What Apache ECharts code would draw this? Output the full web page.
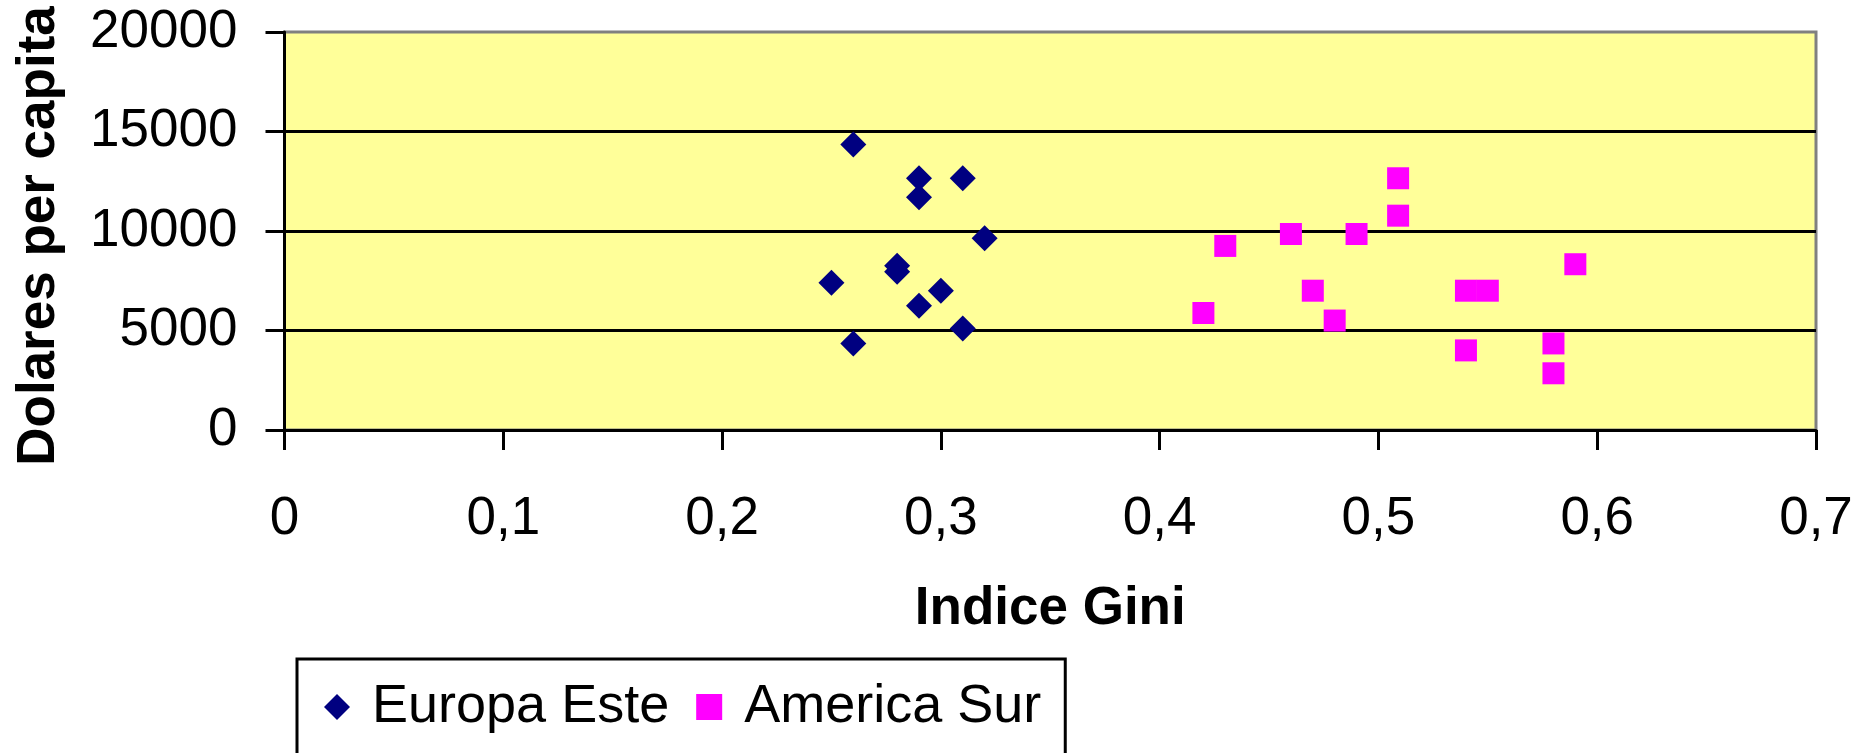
<!DOCTYPE html>
<html>
<head>
<meta charset="utf-8">
<title>Indice Gini</title>
<script src="https://cdn.jsdelivr.net/npm/echarts@6/dist/echarts.min.js"></script>
<style>
	html, body { margin: 0; padding: 0; background: #fff; }
	#chart { width: 1875px; height: 753px; }
</style>
</head>
<body>
<div id="chart"></div>
<script>
	// datos
	const seriesNames = ['Europa Este', 'America Sur'];

	const europaGini = [0.26, 0.29, 0.31, 0.29, 0.32, 0.28, 0.28, 0.25, 0.30, 0.29, 0.31, 0.26];
	const europaDolares = [14350, 12650, 12650, 11700, 9630, 8250, 7950, 7400, 7000, 6250, 5100, 4350];

	const americaGini = [0.509, 0.509, 0.46, 0.49, 0.43, 0.59, 0.47, 0.54, 0.55, 0.42, 0.48, 0.54, 0.58, 0.58];
	const americaDolares = [12650, 10770, 9850, 9850, 9250, 8330, 7000, 7000, 7000, 5880, 5500, 4000, 4350, 2850];

	const xTicks = [0, 0.1, 0.2, 0.3, 0.4, 0.5, 0.6, 0.7];
	const yTicks = [0, 5000, 10000, 15000, 20000];

	const font = '"Liberation Sans", Arial, sans-serif';

	function pairs(xs, ys) {
		return xs.map((x, i) => [x, ys[i]]);
	}

	const chart = echarts.init(document.getElementById('chart'), null, { renderer: 'canvas' });

	const option = {
		backgroundColor: '#ffffff',
		animation: false,
		textStyle: { fontFamily: font, color: '#000' },
		grid: {
			left: 284.5,
			right: 59,
			top: 32,
			bottom: 323,
			show: true,
			backgroundColor: '#FFFF99',
			borderColor: '#808080',
			borderWidth: 3
		},
		legend: {
			data: seriesNames,
			left: 297,
			top: 659,
			orient: 'horizontal',
			itemWidth: 26,
			itemHeight: 26,
			itemGap: 27,
			padding: [21, 24, 70, 27],
			borderColor: '#000',
			borderWidth: 3,
			backgroundColor: '#fff',
			textStyle: {
				fontFamily: font,
				fontSize: 54,
				color: '#000',
				padding: [0, 0, 0, 17]
			}
		},
		xAxis: {
			type: 'value',
			min: xTicks[0],
			max: xTicks[xTicks.length - 1],
			interval: 0.1,
			name: 'Indice Gini',
			nameLocation: 'middle',
			nameGap: 153,
			nameTextStyle: { fontFamily: font, fontSize: 53, fontWeight: 'bold', color: '#000' },
			axisLine: { show: true, onZero: false, lineStyle: { color: '#000', width: 3 } },
			axisTick: { show: true, inside: false, length: 20, lineStyle: { color: '#000', width: 3 } },
			axisLabel: {
				margin: 63,
				fontFamily: font,
				fontSize: 53,
				color: '#000',
				formatter: v => String(Math.round(v * 10) / 10).replace('.', ',')
			},
			splitLine: { show: false }
		},
		yAxis: {
			type: 'value',
			min: yTicks[0],
			max: yTicks[yTicks.length - 1],
			interval: 5000,
			name: 'Dolares per capita',
			nameLocation: 'middle',
			nameGap: 219,
			nameRotate: 90,
			nameTextStyle: {
				fontFamily: font,
				fontSize: 53,
				fontWeight: 'bold',
				color: '#000',
				padding: [0, 10, 0, 0]
			},
			axisLine: { show: true, onZero: false, lineStyle: { color: '#000', width: 3 } },
			axisTick: { show: true, inside: false, length: 19, lineStyle: { color: '#000', width: 3 } },
			axisLabel: {
				margin: 47,
				fontFamily: font,
				fontSize: 53,
				color: '#000',
				formatter: v => String(v)
			},
			splitLine: {
				show: true,
				showMinLine: false,
				showMaxLine: false,
				lineStyle: { color: '#000', width: 3 }
			}
		},
		series: [
			{
				name: seriesNames[0],
				type: 'scatter',
				symbol: 'diamond',
				symbolSize: 26,
				itemStyle: { color: '#000080', opacity: 1 },
				data: pairs(europaGini, europaDolares)
			},
			{
				name: seriesNames[1],
				type: 'scatter',
				symbol: 'rect',
				symbolSize: 22,
				itemStyle: { color: '#FF00FF', opacity: 1 },
				data: pairs(americaGini, americaDolares)
			}
		]
	};

	chart.setOption(option);
</script>
</body>
</html>
